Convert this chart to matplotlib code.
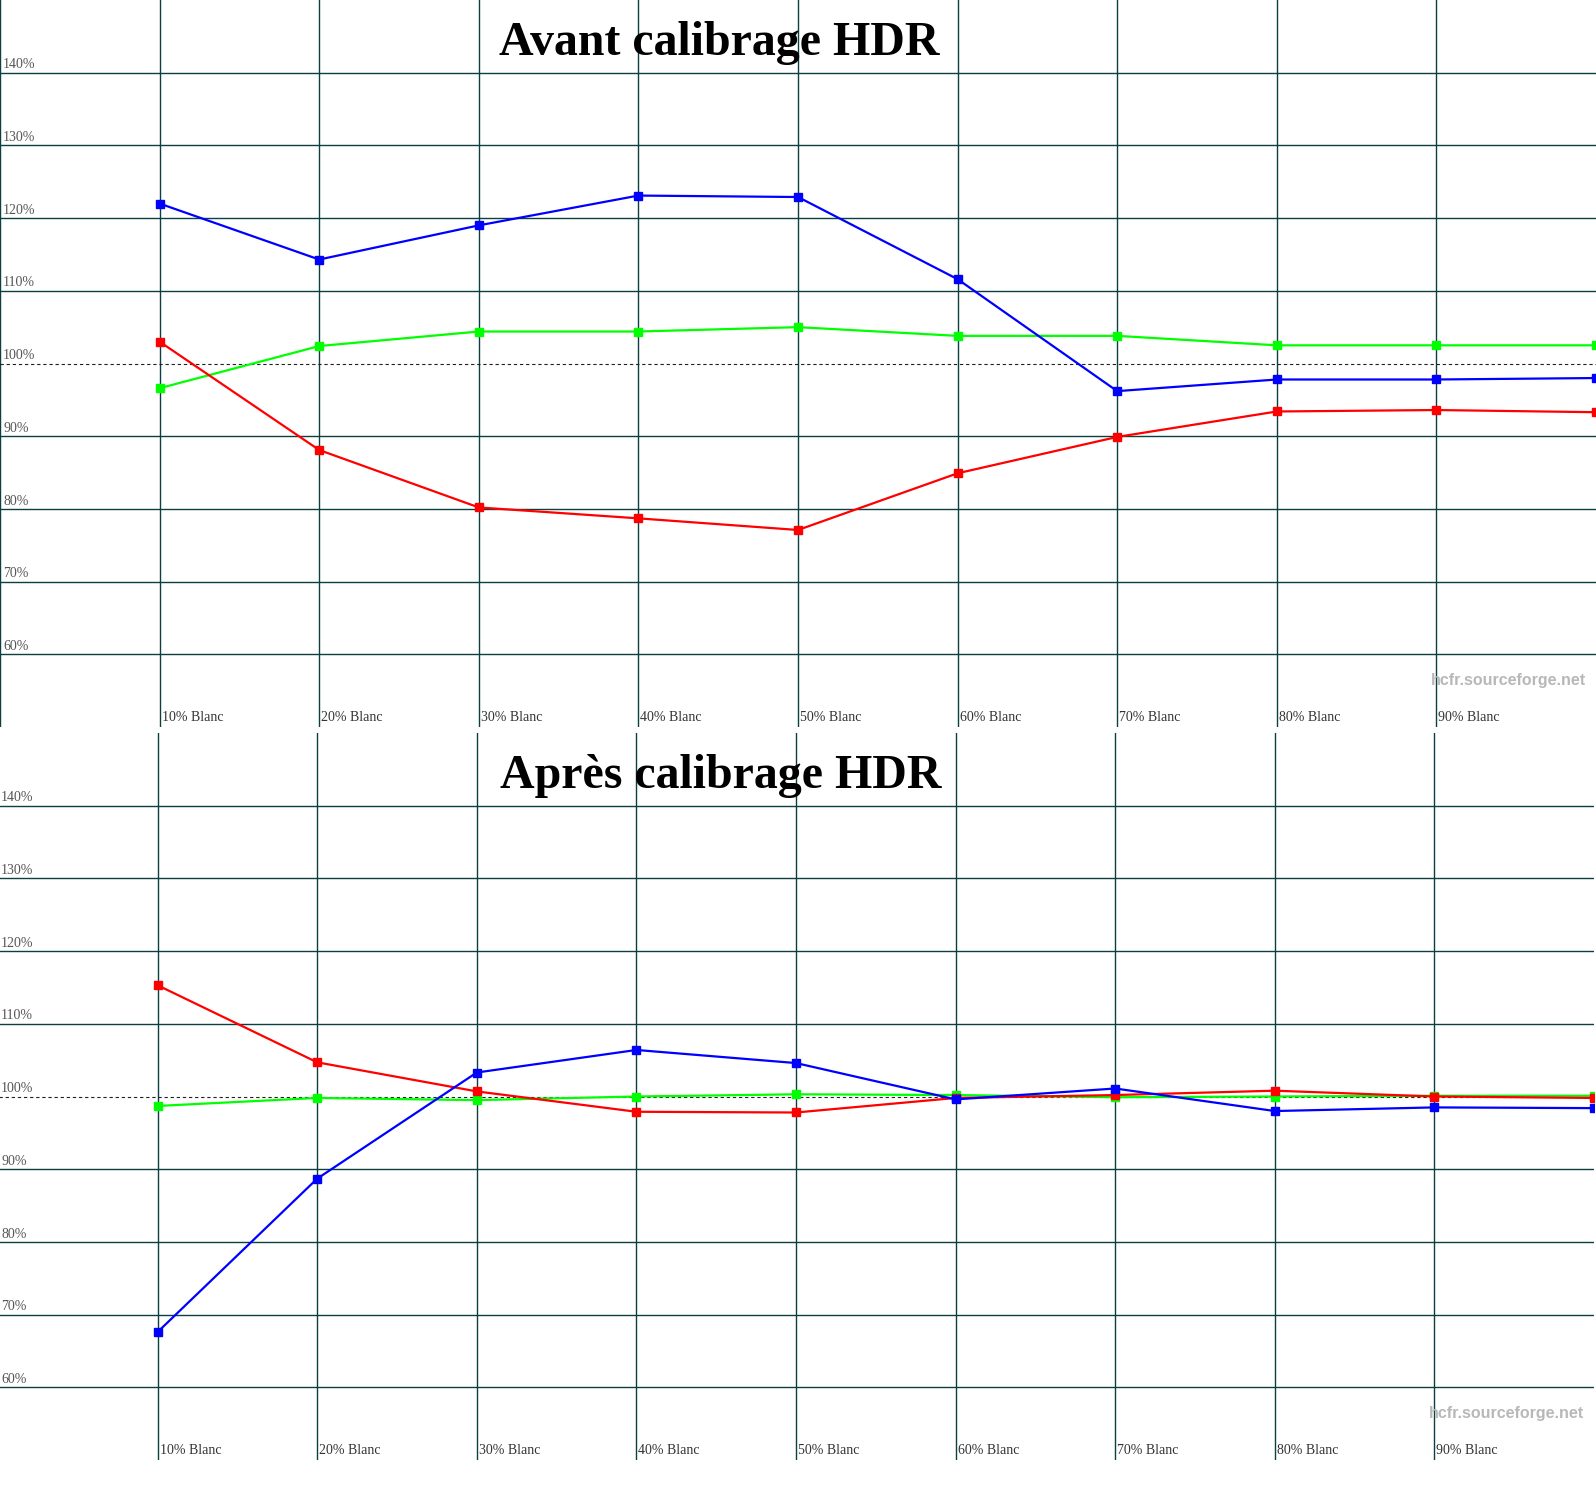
import numpy as np
import matplotlib
matplotlib.use("Agg")
import matplotlib.pyplot as plt

plt.rcParams['font.family'] = ['Liberation Serif', 'DejaVu Serif']

# --------------------------------------------------
# data
# --------------------------------------------------
levels = [10, 20, 30, 40, 50, 60, 70, 80, 90, 100]
x_labels = ["10% Blanc", "20% Blanc", "30% Blanc", "40% Blanc", "50% Blanc",
            "60% Blanc", "70% Blanc", "80% Blanc", "90% Blanc"]
y_ticks = [60, 70, 80, 90, 100, 110, 120, 130, 140]

avant_red = [103.0, 88.1, 80.2, 78.7, 77.1, 84.9, 89.9, 93.4, 93.6, 93.3]
avant_green = [96.6, 102.4, 104.4, 104.4, 105.0, 103.8, 103.8, 102.5, 102.5, 102.5]
avant_blue = [122.0, 114.3, 119.0, 123.1, 122.9, 111.6, 96.2, 97.8, 97.8, 98.0]

apres_red = [115.3, 104.7, 100.7, 97.9, 97.8, 99.8, 100.2, 100.8, 100.0, 99.8]
apres_green = [98.7, 99.8, 99.5, 100.0, 100.3, 100.2, 99.9, 100.0, 100.1, 100.1]
apres_blue = [67.6, 88.7, 103.3, 106.4, 104.6, 99.6, 101.1, 98.0, 98.5, 98.4]

grid_col = '#0b4040'


def panel(ax, title, red, green, blue, title_x):
    ax.set_xlim(0, 100)
    ax.set_ylim(50, 150)
    ax.axis('off')
    for v in range(0, 100, 10):
        ax.axvline(v, color=grid_col, lw=1.0, zorder=1)
    for v in y_ticks:
        if v != 100:
            ax.axhline(v, color=grid_col, lw=1.0, zorder=1)
        ax.text(0.2, v + 0.6, f"{v}%", fontsize=10, color='#555555',
                ha='left', va='baseline')
    ax.axhline(100, color='#222222', lw=0.8, ls=(0, (3, 2.5)), zorder=1)
    for v, lab in zip(levels, x_labels):
        ax.text(v + 0.12, 50.8, lab, fontsize=10, color='#333333',
                ha='left', va='baseline')
    for vals, c in [(green, '#00ff00'), (red, '#ff0000'), (blue, '#0000ff')]:
        ax.plot(levels, vals, color=c, lw=1.6, marker='s', ms=5.5,
                mec=c, mfc=c, zorder=3)
    ax.text(title_x, 142.45, title, fontsize=34.5, fontweight='bold',
            ha='center', va='baseline', color='black')
    ax.text(99.4, 55.8, "hcfr.sourceforge.net", fontsize=11.5,
            fontweight='bold', family='Liberation Sans', color='#b8b8b8',
            ha='right', va='baseline')


fig = plt.figure(figsize=(15.96, 14.86), dpi=100)
W, H = 1596, 1486
ax1 = fig.add_axes([0, 1 - 727 / H, 1, 727 / H])
ax2 = fig.add_axes([-2 / W, (H - 1460) / H, 1, 727 / H])

panel(ax1, "Avant calibrage HDR", avant_red, avant_green, avant_blue, 45.05)
panel(ax2, "Après calibrage HDR", apres_red, apres_green, apres_blue, 45.3)

fig.savefig("out.png", dpi=100)
